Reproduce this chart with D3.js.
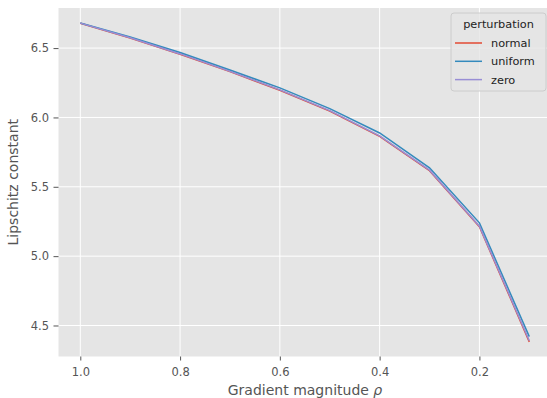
<!DOCTYPE html>
<html>
<head>
<meta charset="utf-8">
<script src="https://cdn.jsdelivr.net/npm/d3@7"></script>
<style>
  body { margin: 0; background: #fff; }
  svg { display: block; font-family: "DejaVu Sans", sans-serif; }
</style>
</head>
<body>
<div id="chart"></div>
<script>
// data
var rho = [1.0, 0.9, 0.8, 0.7, 0.6, 0.5, 0.4, 0.3, 0.2, 0.1];
var normal  = [6.679, 6.572, 6.456, 6.330, 6.196, 6.046, 5.864, 5.616, 5.212, 4.382];
var uniform = [6.681, 6.580, 6.468, 6.342, 6.213, 6.064, 5.888, 5.637, 5.240, 4.420];
var zero    = [6.680, 6.574, 6.458, 6.332, 6.199, 6.049, 5.867, 5.620, 5.216, 4.390];
var seriesNames = ["normal", "uniform", "zero"];
var colors = ["#E24A33", "#348ABD", "#988ED5"];
var xTicks = [1.0, 0.8, 0.6, 0.4, 0.2];
var yTicks = [4.5, 5.0, 5.5, 6.0, 6.5];

// plot box (right edge runs past the picture, as in the original)
var W = 547, H = 398;
var plot = {left: 58.5, right: 552, top: 8, bottom: 356.5};

var x = d3.scaleLinear().domain([1.0437, 0.0545]).range([plot.left, plot.right]);
var y = d3.scaleLinear().domain([4.2765, 6.789]).range([plot.bottom, plot.top]);

var svg = d3.select("#chart").append("svg")
  .attr("width", W).attr("height", H);

// background
svg.append("rect")
  .attr("x", plot.left).attr("y", plot.top)
  .attr("width", plot.right - plot.left).attr("height", plot.bottom - plot.top)
  .attr("fill", "#E5E5E5");

// grid
svg.append("g").selectAll("line").data(xTicks).enter().append("line")
  .attr("x1", function(d) { return x(d); }).attr("x2", function(d) { return x(d); })
  .attr("y1", plot.top).attr("y2", plot.bottom)
  .attr("stroke", "#fff").attr("stroke-width", 1);
svg.append("g").selectAll("line").data(yTicks).enter().append("line")
  .attr("y1", function(d) { return y(d); }).attr("y2", function(d) { return y(d); })
  .attr("x1", plot.left).attr("x2", plot.right)
  .attr("stroke", "#fff").attr("stroke-width", 1);

// axes
var xAxis = d3.axisBottom(x).tickValues(xTicks).tickFormat(d3.format(".1f")).tickSize(4).tickPadding(7);
var yAxis = d3.axisLeft(y).tickValues(yTicks).tickFormat(d3.format(".1f")).tickSize(5).tickPadding(4.5);

var gx = svg.append("g").attr("transform", "translate(0," + plot.bottom + ")").call(xAxis);
var gy = svg.append("g").attr("transform", "translate(" + plot.left + ",0)").call(yAxis);
[gx, gy].forEach(function(g) {
  g.select(".domain").remove();
  g.selectAll(".tick line").attr("stroke", "#555");
  g.selectAll(".tick text").attr("fill", "#555").style("font-size", "11.5px")
    .style("font-family", "DejaVu Sans, sans-serif");
});

// lines
var valueline = d3.line()
  .x(function(d) { return x(d[0]); })
  .y(function(d) { return y(d[1]); });

[normal, uniform, zero].forEach(function(vals, i) {
  svg.append("path")
    .datum(rho.map(function(r, j) { return [r, vals[j]]; }))
    .attr("fill", "none")
    .attr("stroke", colors[i])
    .attr("stroke-width", 1.5)
    .attr("d", valueline);
});

// axis labels
svg.append("text")
  .attr("x", 305).attr("y", 395)
  .attr("text-anchor", "middle")
  .attr("fill", "#555").style("font-size", "14px")
  .html('Gradient magnitude <tspan font-style="italic">ρ</tspan>');

svg.append("text")
  .attr("transform", "translate(18," + ((plot.top + plot.bottom) / 2) + ") rotate(-90)")
  .attr("text-anchor", "middle")
  .attr("fill", "#555").style("font-size", "14px")
  .text("Lipschitz constant");

// legend
var lg = svg.append("g").attr("transform", "translate(451,13)");
lg.append("rect")
  .attr("width", 95).attr("height", 78).attr("rx", 3)
  .attr("fill", "#E5E5E5").attr("fill-opacity", 0.8)
  .attr("stroke", "#CCCCCC").attr("stroke-width", 1);
lg.append("text")
  .attr("x", 47.5).attr("y", 15)
  .attr("text-anchor", "middle")
  .attr("fill", "#222").style("font-size", "11.3px")
  .text("perturbation");
seriesNames.forEach(function(name, i) {
  var yy = 30 + i * 18.3;
  lg.append("line")
    .attr("x1", 4).attr("x2", 31)
    .attr("y1", yy).attr("y2", yy)
    .attr("stroke", colors[i]).attr("stroke-width", 1.5);
  lg.append("text")
    .attr("x", 40).attr("y", yy + 4)
    .attr("fill", "#222").style("font-size", "11.3px")
    .text(name);
});
</script>
</body>
</html>
